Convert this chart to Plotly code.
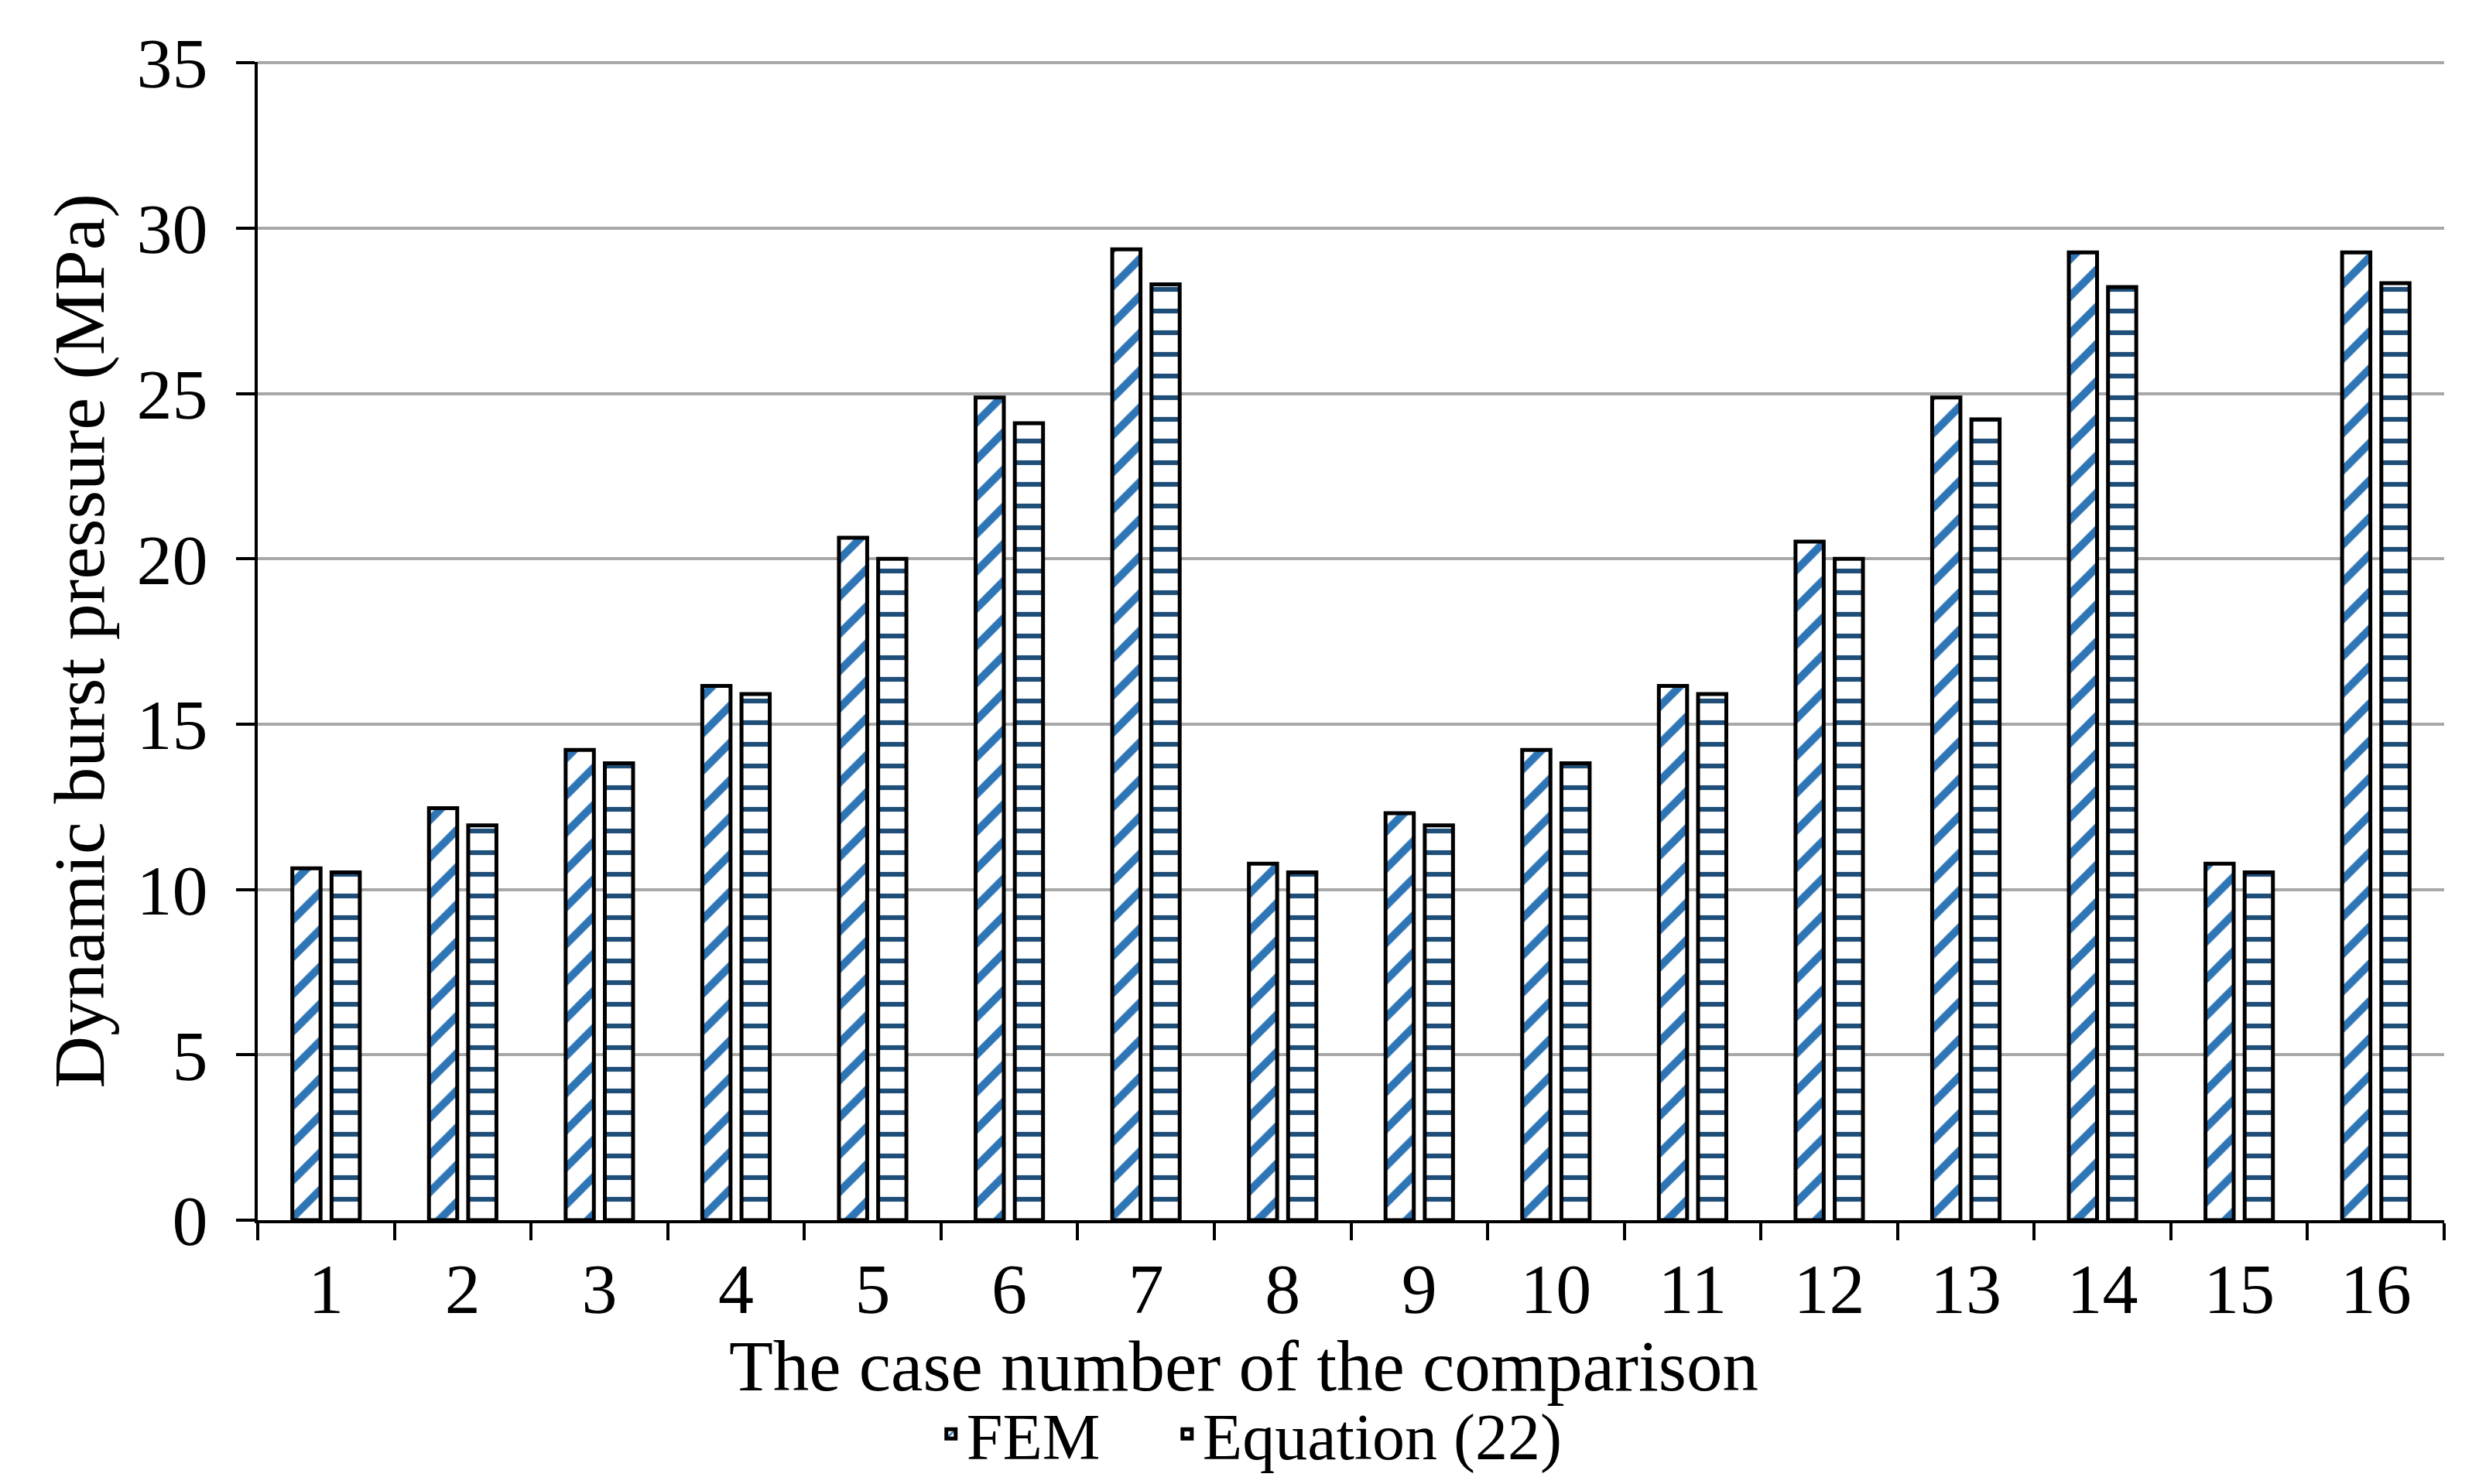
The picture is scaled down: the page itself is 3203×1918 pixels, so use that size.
import plotly.graph_objects as go

cases = [str(i) for i in range(1, 17)]
fem = [10.64, 12.46, 14.22, 16.16, 20.64, 24.88, 29.36, 10.78,
       12.31, 14.22, 16.16, 20.52, 24.88, 29.27, 10.78, 29.27]
eq22 = [10.52, 11.94, 13.82, 15.91, 20.0, 24.1, 28.3, 10.52,
        11.94, 13.82, 15.91, 20.0, 24.22, 28.22, 10.52, 28.34]
y_ticks = [0, 5, 10, 15, 20, 25, 30, 35]

FONT = "Liberation Serif, Times New Roman, serif"

fig = go.Figure()
fig.add_trace(go.Bar(
    x=cases, y=fem, name="FEM", legend="legend",
    marker=dict(
        color="white",
        line=dict(color="black", width=5),
        pattern=dict(shape="/", fgcolor="#2E75B6", bgcolor="white",
                     fgopacity=1, size=34, solidity=0.3, fillmode="replace"),
    ),
))
fig.add_trace(go.Bar(
    x=cases, y=eq22, name="Equation (22)", legend="legend2",
    marker=dict(
        color="white",
        line=dict(color="black", width=5),
        pattern=dict(shape="-", fgcolor="#1F4E79", bgcolor="white",
                     fgopacity=1, size=28, solidity=0.22, fillmode="replace"),
    ),
))

legend_common = dict(orientation="h", xanchor="left", y=-0.184, yanchor="middle",
                     font=dict(family=FONT, size=84, color="black"),
                     itemwidth=30, bgcolor="rgba(0,0,0,0)")

fig.update_layout(
    width=3203, height=1918,
    paper_bgcolor="white", plot_bgcolor="white",
    font=dict(family=FONT, color="black", size=92),
    margin=dict(l=325, r=53, t=72, b=348),
    barmode="group", bargap=0.426, bargroupgap=0.28,
    showlegend=True,
    legend=dict(x=0.310, **legend_common),
    legend2=dict(x=0.418, **legend_common),
    annotations=[dict(
        text="The case number of the comparison",
        xref="paper", yref="paper", x=0.451, y=-0.126,
        xanchor="center", yanchor="middle", showarrow=False,
        font=dict(family=FONT, size=93, color="black"),
    )],
)

fig.update_xaxes(
    type="category", categoryorder="array", categoryarray=cases,
    showline=True, linecolor="black", linewidth=4,
    ticks="outside", tickson="boundaries", ticklen=22, tickwidth=4,
    tickcolor="black", showgrid=False, zeroline=False,
    ticklabelstandoff=6,
    tickfont=dict(family=FONT, size=92, color="black"),
)
fig.update_yaxes(
    range=[0, 35.03], tickvals=y_ticks,
    showline=True, linecolor="black", linewidth=4,
    ticks="outside", ticklen=24, tickwidth=4, tickcolor="black",
    ticklabelstandoff=18,
    showgrid=True, gridcolor="#A8A8A8", gridwidth=4, zeroline=False,
    tickfont=dict(family=FONT, size=92, color="black"),
    title=dict(text="Dynamic burst pressure (MPa)",
               font=dict(family=FONT, size=94, color="black"), standoff=12),
)

fig.write_html("out.html")
